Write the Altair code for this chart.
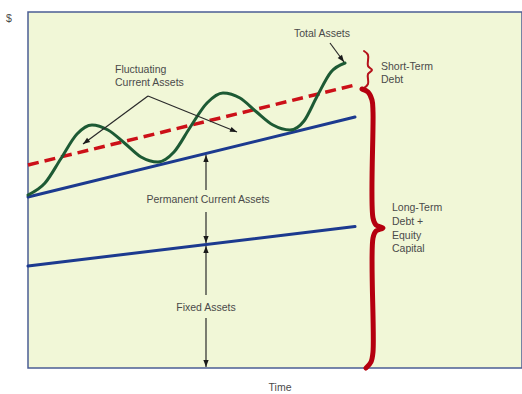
import math
import altair as alt
import pandas as pd

# Chart units: time runs left->right, value ($) bottom->top (no ticks shown in original)
time_ends = [0, 327]
fixed_assets = [102, 141.5]          # top of fixed assets
permanent_current = [171, 251]       # top of permanent current assets
long_term_financing = [203, 283]     # long-term debt + equity level (dashed)

total_t = [0, 17, 33, 49, 64, 80, 97, 113, 130, 146, 162, 179, 195, 212, 228, 245, 262, 276, 289, 303, 317]
total_v = [173, 185, 209.5, 234, 243, 238, 224.5, 211, 206, 216, 240.5, 265, 275, 270, 256.5, 243, 238, 247, 271.5, 296, 305]

# annotation arrows: start -> tip
arrow_t0 = [120, 120, 302, 178, 178, 178, 178]
arrow_v0 = [272, 272, 325, 178, 156, 73, 50]
arrow_t1 = [55, 209, 316, 178, 178, 178, 178]
arrow_v1 = [224, 236, 306, 213, 125, 122, 1]

# braces
short_brace_t = [336, 340, 340, 344, 340, 340, 336]
short_brace_v = [317, 313, 302, 298, 294, 284, 280]
long_brace_t = [334, 340, 344, 345, 345, 348, 355, 348, 345, 345, 343, 338]
long_brace_v = [279, 276, 268, 256, 150, 143, 140, 137, 130, 16, 6, 0]

# labels
center_labels = ["Total Assets", "Permanent Current Assets", "Fixed Assets", "Time", "$"]
center_t = [294, 180, 178, 252, -19]
center_v = [334, 168, 60, -20, 349]
left_labels = ["Fluctuating", "Current Assets", "Short-Term", "Debt",
               "Long-Term", "Debt +", "Equity", "Capital"]
left_t = [87, 87, 353, 353, 364, 364, 364, 364]
left_v = [298, 285, 301, 288, 160, 146, 132, 119]

XS = alt.Scale(domain=[0, 494], nice=False, zero=False)
YS = alt.Scale(domain=[0, 356], nice=False, zero=False)
FONT = "Liberation Sans Narrow, Liberation Sans, Arial, sans-serif"


def xenc(f):
    return alt.X(f, type="quantitative", scale=XS, axis=None)


def yenc(f):
    return alt.Y(f, type="quantitative", scale=YS, axis=None)


straight = pd.DataFrame({
    "t0": [time_ends[0]] * 3,
    "t1": [time_ends[1]] * 3,
    "v0": [fixed_assets[0], permanent_current[0], long_term_financing[0]],
    "v1": [fixed_assets[1], permanent_current[1], long_term_financing[1]],
    "kind": ["fixed", "perm", "fin"],
})

blue = alt.Chart(straight[straight.kind != "fin"]).mark_rule(
    color="#1c3a8f", strokeWidth=3, strokeCap="round"
).encode(x=xenc("t0"), y=yenc("v0"), x2="t1", y2="v1")

red = alt.Chart(straight[straight.kind == "fin"]).mark_rule(
    color="#cc1018", strokeWidth=3.5, strokeDash=[11, 6]
).encode(x=xenc("t0"), y=yenc("v0"), x2="t1", y2="v1")

total_df = pd.DataFrame({"t": total_t, "v": total_v, "i": range(len(total_t))})
green = alt.Chart(total_df).mark_line(
    color="#1d5a34", strokeWidth=3, interpolate="monotone", strokeCap="round"
).encode(x=xenc("t"), y=yenc("v"), order="i:Q")

arr = pd.DataFrame({"t0": arrow_t0, "v0": arrow_v0, "t1": arrow_t1, "v1": arrow_v1})
arr["ang"] = [math.degrees(math.atan2(a - b, c - d)) % 360
              for a, b, c, d in zip(arr.t1, arr.t0, arr.v1, arr.v0)]
arrow_lines = alt.Chart(arr).mark_rule(color="#2a2a2a", strokeWidth=1.2).encode(
    x=xenc("t0"), y=yenc("v0"), x2="t1", y2="v1")
arrow_heads = alt.Chart(arr).mark_point(
    shape="M0,0L-0.38,1L0.38,1Z", size=196, filled=True, color="#1a1a1a", opacity=1
).encode(x=xenc("t1"), y=yenc("v1"), angle=alt.Angle("ang:Q", scale=None))

sb = pd.DataFrame({"t": short_brace_t, "v": short_brace_v, "i": range(len(short_brace_t))})
short_brace = alt.Chart(sb).mark_line(
    color="#b5121b", strokeWidth=2, interpolate="catmull-rom", strokeCap="round", strokeJoin="round"
).encode(x=xenc("t"), y=yenc("v"), order="i:Q")
lb = pd.DataFrame({"t": long_brace_t, "v": long_brace_v, "i": range(len(long_brace_t))})
long_brace = alt.Chart(lb).mark_line(
    color="#b5000f", strokeWidth=5, interpolate="catmull-rom", strokeCap="round", strokeJoin="round"
).encode(x=xenc("t"), y=yenc("v"), order="i:Q")

ct = pd.DataFrame({"t": center_t, "v": center_v, "label": center_labels})
center_text = alt.Chart(ct).mark_text(
    align="center", baseline="middle", font=FONT, fontSize=10.5, color="#4a4a4a"
).encode(x=xenc("t"), y=yenc("v"), text="label:N")

lt = pd.DataFrame({"t": left_t, "v": left_v, "label": left_labels})
left_text = alt.Chart(lt).mark_text(
    align="left", baseline="middle", font=FONT, fontSize=10.5, color="#4a4a4a"
).encode(x=xenc("t"), y=yenc("v"), text="label:N")

chart = alt.layer(
    blue, red, green, arrow_lines, arrow_heads, short_brace, long_brace, center_text, left_text
).properties(
    width=494, height=356,
    autosize=alt.AutoSizeParams(type="none"),
    padding={"left": 28, "top": 12, "right": 0, "bottom": 26},
    background="white",
).configure_view(
    stroke="#4b5d94", strokeWidth=1.5, fill="#f1f7d7"
)

chart.save("out.html", embed_options={"renderer": "svg", "actions": False})
